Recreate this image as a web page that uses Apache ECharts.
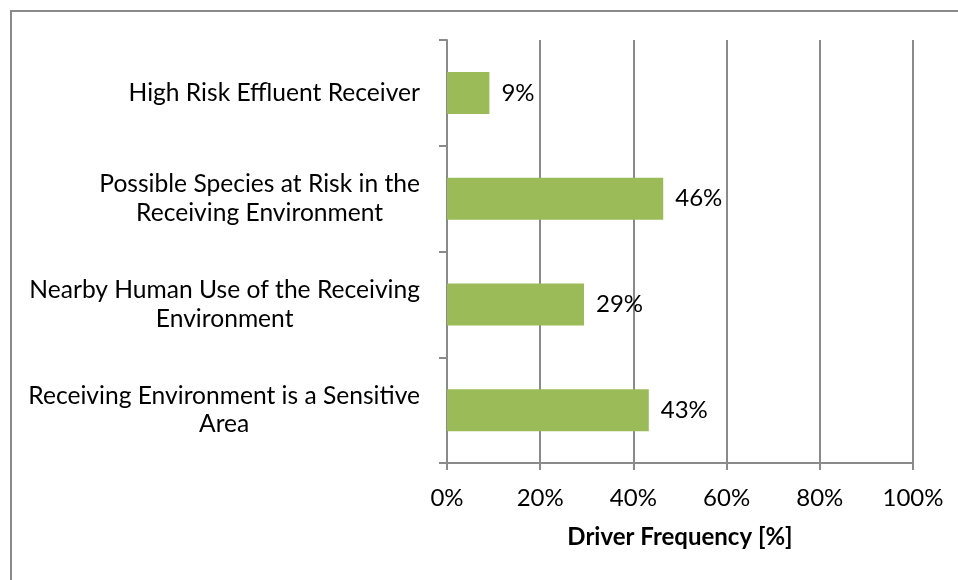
<!DOCTYPE html>
<html>
<head>
<meta charset="utf-8">
<script src="https://cdn.jsdelivr.net/npm/echarts@6/dist/echarts.min.js"></script>
<style>
  html, body { margin: 0; padding: 0; background: #fff; }
  #chart { width: 958px; height: 580px; }
</style>
</head>
<body>
<div id="chart"></div>
<script>
// categories top to bottom, as in the picture
const categories = [
  "High Risk Effluent Receiver",
  "Possible Species at Risk in the\nReceiving Environment",
  "Nearby Human Use of the Receiving\nEnvironment",
  "Receiving Environment is a Sensitive\nArea"
];
const frequency = [9.1, 46.4, 29.4, 43.3];
const xTicks = [0, 20, 40, 60, 80, 100];

const fontFamily = "Lato, 'Open Sans', sans-serif";
const fontSize = 24;
const gray = "#8a8a8a";

const chart = echarts.init(document.getElementById("chart"));

const option = {
  animation: false,
  textStyle: { fontFamily: fontFamily },
  graphic: [
    {
      type: "rect",
      shape: { x: 11, y: 11, width: 1000, height: 1000 },
      style: { fill: "none", stroke: gray, lineWidth: 2 }
    }
  ],
  grid: { left: 447, right: 45, top: 40, bottom: 117 },
  xAxis: {
    type: "value",
    min: xTicks[0],
    max: xTicks[xTicks.length - 1],
    interval: 20,
    name: "Driver Frequency [%]",
    nameLocation: "middle",
    nameGap: 62,
    nameTextStyle: { fontSize: fontSize, fontWeight: "bold", color: "#000" },
    axisLine: { show: true, lineStyle: { color: gray, width: 2 } },
    axisTick: { show: true, length: 7, lineStyle: { color: gray, width: 2 } },
    axisLabel: { fontSize: fontSize, color: "#000", margin: 23, formatter: "{value}%" },
    splitLine: { show: true, lineStyle: { color: gray, width: 2 } }
  },
  yAxis: {
    type: "category",
    inverse: true,
    data: categories,
    axisLine: { show: true, lineStyle: { color: gray, width: 2 } },
    axisTick: { show: true, length: 8, lineStyle: { color: gray, width: 2 } },
    axisLabel: {
      margin: 27,
      formatter: function (v) {
        return v.split("\n").map(s => "{a|" + s + "}").join("\n");
      },
      rich: {
        a: { fontSize: 24.6, color: "#000", align: "center", lineHeight: 28.5, fontFamily: fontFamily }
      }
    },
    splitLine: { show: false }
  },
  series: [
    {
      type: "bar",
      data: frequency,
      barWidth: 42,
      itemStyle: { color: "#9bbb59" },
      label: {
        show: true,
        position: "right",
        distance: 12,
        fontSize: fontSize,
        color: "#000",
        formatter: p => Math.round(p.value) + "%"
      }
    }
  ]
};

chart.setOption(option);
</script>
</body>
</html>
